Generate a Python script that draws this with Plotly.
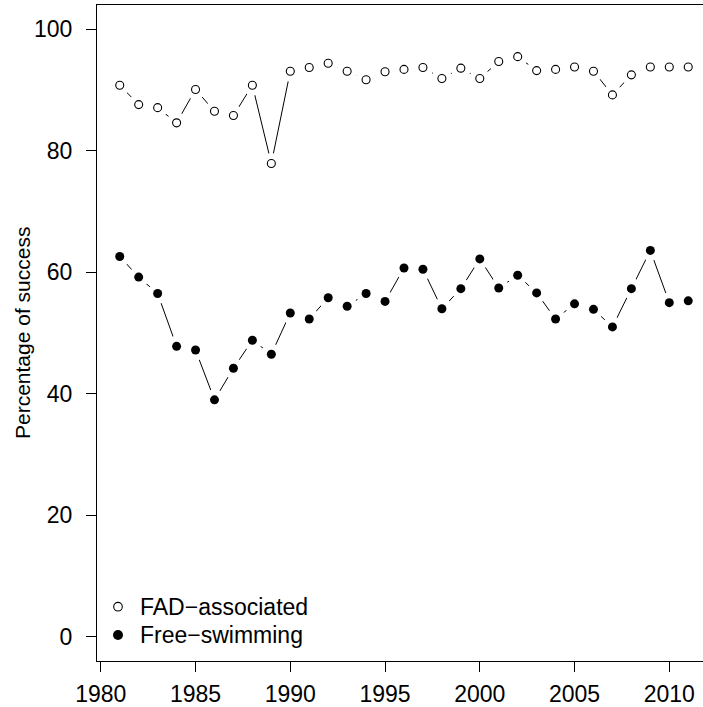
import plotly.graph_objects as go

years = list(range(1981, 2012))
fad_associated = [90.8, 87.6, 87.1, 84.6, 90.1, 86.5, 85.8, 90.8, 77.9, 93.1,
                  93.7, 94.4, 93.1, 91.7, 93.0, 93.4, 93.7, 91.9, 93.6, 91.9,
                  94.7, 95.5, 93.2, 93.4, 93.8, 93.1, 89.2, 92.5, 93.8, 93.8, 93.8]
free_swimming = [62.6, 59.2, 56.5, 47.8, 47.2, 39.0, 44.2, 48.8, 46.5, 53.3,
                 52.3, 55.8, 54.4, 56.5, 55.2, 60.7, 60.5, 54.0, 57.3, 62.2,
                 57.4, 59.5, 56.6, 52.3, 54.8, 53.9, 51.0, 57.3, 63.6, 55.0, 55.3]
x_ticks = [1980, 1985, 1990, 1995, 2000, 2005, 2010]
y_ticks = [0, 20, 40, 60, 80, 100]
series_names = ["FAD\u2212associated", "Free\u2212swimming"]

FONT = "Liberation Sans, Arial, Helvetica, sans-serif"
TICK_SIZE = 23
fig = go.Figure()

for ys in (fad_associated, free_swimming):
    fig.add_trace(go.Scatter(x=years, y=ys, mode="lines",
                             line=dict(color="black", width=1),
                             showlegend=False, hoverinfo="skip"))
    # white masks create R type="b" gaps around points
    fig.add_trace(go.Scatter(x=years, y=ys, mode="markers",
                             marker=dict(color="white", size=21, line=dict(width=0)),
                             showlegend=False, hoverinfo="skip"))

fig.add_trace(go.Scatter(x=years, y=fad_associated, mode="markers",
                         name=series_names[0],
                         marker=dict(symbol="circle-open", color="black", size=8,
                                     line=dict(width=1.1, color="black")),
                         showlegend=False))
fig.add_trace(go.Scatter(x=years, y=free_swimming, mode="markers",
                         name=series_names[1],
                         marker=dict(symbol="circle", color="black", size=9,
                                     line=dict(width=0)),
                         showlegend=False))

# legend (bottom-left, R style) built from shapes + annotations
plot_h = 707 - 5 - 46
plot_w = 606
sym_x = (118 - 97) / plot_w
txt_x = (139 - 97) / plot_w
rows_y = [(661 - 606.7) / plot_h, (661 - 635.0) / plot_h]
shapes = []
annotations = []
styles = [dict(fillcolor="white", line=dict(color="black", width=1.1), r=4.3),
          dict(fillcolor="black", line=dict(color="black", width=0), r=5.0)]
for name, yy, st in zip(series_names, rows_y, styles):
    r = st["r"]
    shapes.append(dict(type="circle", xref="paper", yref="paper",
                       xsizemode="pixel", ysizemode="pixel",
                       xanchor=sym_x, yanchor=yy, x0=-r, x1=r, y0=-r, y1=r,
                       fillcolor=st["fillcolor"], line=st["line"]))
    annotations.append(dict(text=name, xref="paper", yref="paper",
                            x=txt_x, y=yy, xanchor="left", yanchor="middle",
                            showarrow=False, borderpad=0,
                            font=dict(family=FONT, size=TICK_SIZE, color="black")))

annotations.append(dict(text="Percentage of success", textangle=-90,
                        xref="paper", yref="paper", x=0, y=0.5,
                        xanchor="center", yanchor="middle", xshift=-75,
                        showarrow=False,
                        font=dict(family=FONT, size=21, color="black")))

fig.update_layout(
    width=703, height=707,
    margin=dict(l=97, r=0, t=5, b=46, pad=0),
    paper_bgcolor="white", plot_bgcolor="white",
    font=dict(family=FONT, size=TICK_SIZE, color="black"),
    showlegend=False,
    xaxis=dict(range=[1979.8, 1979.8 + plot_w / 18.95], tickmode="array",
               tickvals=x_ticks, ticktext=[str(v) for v in x_ticks],
               ticks="outside", ticklen=10, tickwidth=1, tickcolor="black",
               showline=True, linecolor="black", linewidth=1, mirror=True,
               showgrid=False, zeroline=False, ticklabelstandoff=2,
               tickfont=dict(family=FONT, size=TICK_SIZE, color="black")),
    yaxis=dict(range=[-4, 104], tickmode="array",
               tickvals=y_ticks, ticktext=[str(v) for v in y_ticks],
               ticks="outside", ticklen=10, tickwidth=1, tickcolor="black",
               showline=True, linecolor="black", linewidth=1, mirror=False,
               showgrid=False, zeroline=False, ticklabelstandoff=9,
               tickfont=dict(family=FONT, size=TICK_SIZE, color="black")),
    shapes=shapes,
    annotations=annotations,
)

fig.write_html("out.html")
